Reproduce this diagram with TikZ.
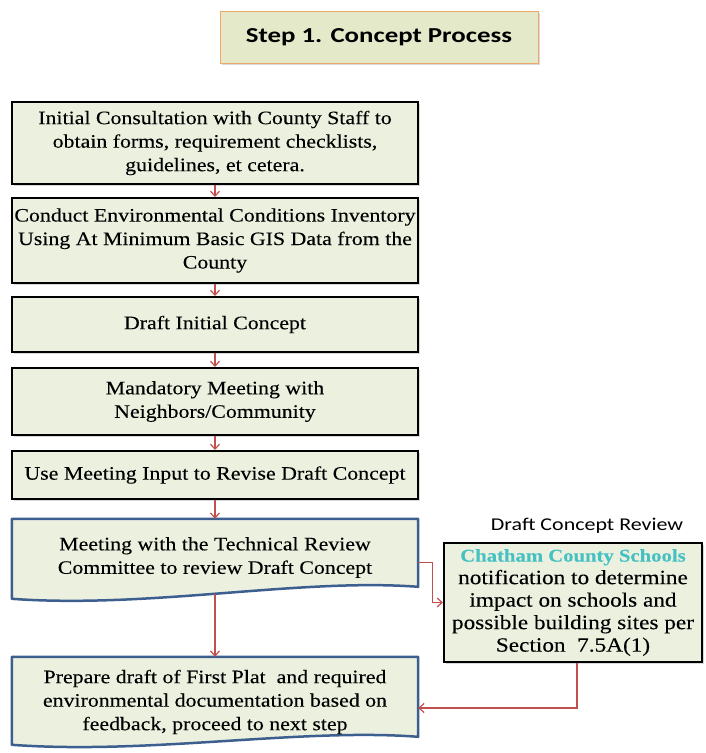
\documentclass[tikz,border=0pt]{standalone}
\usepackage{fontspec}
\setmainfont{Liberation Serif}[FakeStretch=1.15,FakeBold=0.15]
\newfontfamily\titlefont{Carlito}[FakeStretch=1.26]
\newfontfamily\labelfont{Carlito}[FakeStretch=1.22]
\usetikzlibrary{arrows.meta,shadows,calc,backgrounds}
\definecolor{boxfill}{HTML}{EBF0DF}
\definecolor{titlefill}{HTML}{E4E9CA}
\definecolor{titleborder}{HTML}{EFA868}
\definecolor{docblue}{HTML}{3D5F90}
\definecolor{arrowred}{HTML}{C0504D}
\definecolor{schoolcyan}{HTML}{45C1C3}
\begin{document}
\begin{tikzpicture}[x=1pt,y=-1pt,
  box/.style={draw=black, line width=2pt, fill=boxfill, minimum width=406pt,
    inner sep=0pt, align=center, font=\fontsize{19}{23.5}\selectfont,
    drop shadow={shadow xshift=1.5pt,shadow yshift=-1.5pt,opacity=0.3,fill=gray}},
  docbox/.style={minimum width=406pt, inner sep=0pt, align=center,
    font=\fontsize{19}{23.5}\selectfont},
  docshape/.style={fill=boxfill, draw=docblue, line width=2.5pt, line join=round},
  arr/.style={draw=arrowred, line width=1.2pt, -{Straight Barb[length=5pt,width=9pt]}},
  titlebox/.style={draw=titleborder, line width=1pt, fill=titlefill,
    minimum width=318pt, minimum height=52pt, inner sep=0pt,
    font=\titlefont\bfseries\fontsize{21.3}{25}\selectfont,
    drop shadow={shadow xshift=1.5pt,shadow yshift=-1.5pt,opacity=0.3,fill=gray}}
]
\useasboundingbox (0,0) rectangle (705,753);

\node[titlebox] (title) at (379,37) {Step 1. Concept Process};

\node[box, minimum height=82pt] (b1) at (215,143)
  {Initial Consultation with County Staff to\\obtain forms, requirement checklists,\\guidelines, et cetera.};
\node[box, minimum height=85pt] (b2) at (215,240.5)
  {Conduct Environmental Conditions Inventory\\Using At Minimum Basic GIS Data from the\\County};
\node[box, minimum height=55pt] (b3) at (215,324.5) {Draft Initial Concept};
\node[box, minimum height=67pt] (b4) at (215,401.5)
  {Mandatory Meeting with\\Neighbors/Community};
\node[box, minimum height=48pt] (b5) at (215,475)
  {Use Meeting Input to Revise Draft Concept};

\node[docbox, minimum height=77pt] (b6) at (215,557.5)
  {Meeting with the Technical Review\\Committee to review Draft Concept};
\node[docbox, minimum height=90pt] (b7) at (215,702)
  {Prepare draft of First Plat\ \ and required\\environmental documentation based on\\feedback, proceed to next step};

\begin{scope}[on background layer]
  \path[docshape] (b6.north west) -- (b6.north east) -- ($(b6.north east)+(0,68)$)
    .. controls ($(b6.north east)+(-118,59)$) and ($(b6.north east)+(-268,90)$)
    .. ($(b6.north west)+(0,80)$) -- cycle;
  \path[docshape] (b7.north west) -- (b7.north east) -- ($(b7.north east)+(0,80)$)
    .. controls ($(b7.north east)+(-118,71)$) and ($(b7.north east)+(-268,98)$)
    .. ($(b7.north west)+(0,88)$) -- cycle;
\end{scope}

\node[font=\labelfont\fontsize{18}{22}\selectfont, inner sep=0pt] (lbl) at (587,526) {Draft Concept Review};

\node[box, minimum width=258pt, minimum height=119pt, font=\fontsize{20.2}{22.5}\selectfont] (r) at (573,602.5)
  {{\fontsize{18}{22.5}\selectfont\color{schoolcyan}\bfseries Chatham County Schools}\\notification to determine\\impact on schools and\\possible building sites per\\Section\ \ 7.5A(1)};

\draw[arr] (b1.south) -- (b2.north);
\draw[arr] (b2.south) -- (b3.north);
\draw[arr] (b3.south) -- (b4.north);
\draw[arr] (b4.south) -- (b5.north);
\draw[arr] (b5.south) -- (b6.north);
\draw[arr] ([yshift=2pt]b6.south) -- (b7.north);
\draw[arr] ([yshift=-5pt]b6.east) -- ++(14,0) |- (r.west);
\draw[arr] ([xshift=4pt]r.south) |- ([yshift=-6pt]b7.east);
\end{tikzpicture}
\end{document}
